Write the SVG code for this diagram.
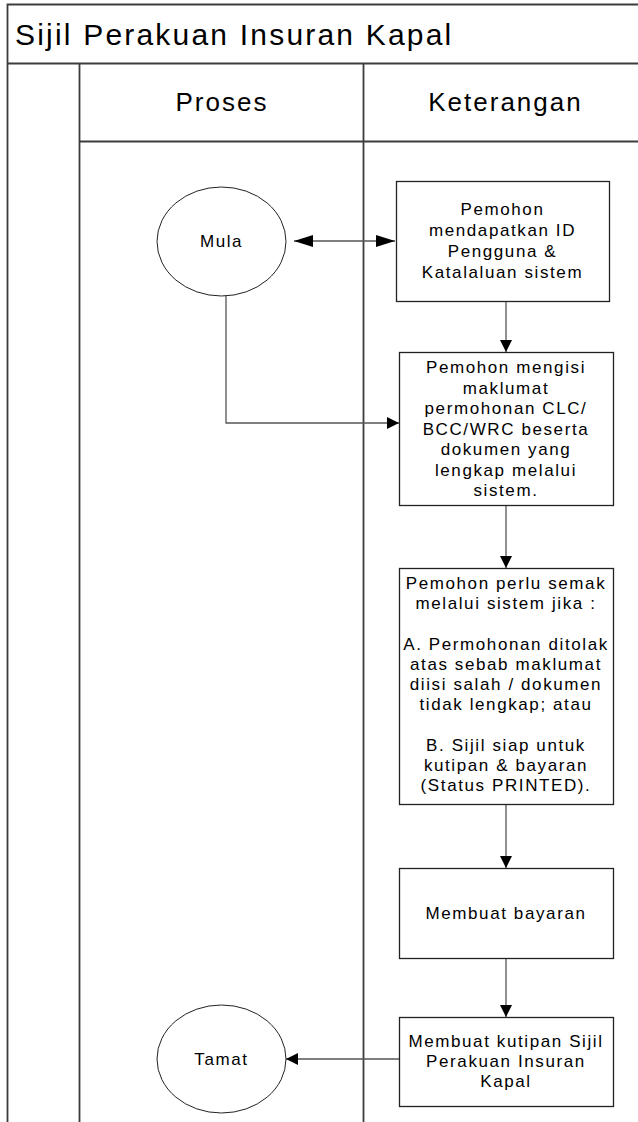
<svg xmlns="http://www.w3.org/2000/svg" width="638" height="1122" viewBox="0 0 638 1122">
<style>
.frame{fill:none;stroke:#3c3c3c;stroke-width:1.8}
.box{fill:#fff;stroke:#222;stroke-width:1.3}
.ell{fill:#fff;stroke:#222;stroke-width:1}
.conn{fill:none;stroke:#555;stroke-width:1.3}
.title{font-family:"Liberation Sans",Arial,sans-serif;font-size:30px;letter-spacing:2.2px;fill:#000}
.head{font-family:"Liberation Sans",Arial,sans-serif;font-size:26px;letter-spacing:2px;fill:#000;text-anchor:middle}
.t{font-family:"Liberation Sans",Arial,sans-serif;font-size:17px;letter-spacing:1.6px;fill:#000;text-anchor:middle}
</style>
<defs>
<marker id="ah" viewBox="0 0 12 12" refX="12" refY="6" markerWidth="12" markerHeight="12" markerUnits="userSpaceOnUse" orient="auto-start-reverse">
<path d="M0,0 L12,6 L0,12 z" fill="#000"/>
</marker>
<marker id="ahl" viewBox="0 0 19 12" refX="19" refY="6" markerWidth="19" markerHeight="12" markerUnits="userSpaceOnUse" orient="auto-start-reverse">
<path d="M0,0 L19,6 L0,12 z" fill="#000"/>
</marker>
</defs>
<rect width="638" height="1122" fill="#fff"/>
<g id="frame">
<path class="frame" d="M7.5,1122 V4.5 H638 M7.5,63.5 H638 M79.5,63.5 V1122 M363.5,63.5 V1122 M79.5,141.5 H638"/>
<text class="title" x="15" y="45">Sijil Perakuan Insuran Kapal</text>
<text class="head" x="222" y="111">Proses</text>
<text class="head" x="505.5" y="111">Keterangan</text>
</g>
<g id="connectors">
<path class="conn" d="M294,241 H395" marker-start="url(#ahl)" marker-end="url(#ahl)"/>
<path class="conn" d="M506,302 V352" marker-end="url(#ah)"/>
<path class="conn" d="M226,296 V423 H399" marker-end="url(#ah)"/>
<path class="conn" d="M506,506 V568" marker-end="url(#ah)"/>
<path class="conn" d="M506,805 V868" marker-end="url(#ah)"/>
<path class="conn" d="M506,959 V1017" marker-end="url(#ah)"/>
<path class="conn" d="M399,1059 H286" marker-end="url(#ah)"/>
</g>
<g id="mula">
<ellipse class="ell" cx="221.5" cy="241.5" rx="64.5" ry="54.5"/>
<text class="t" x="221.5" y="247">Mula</text>
</g>
<g id="box1">
<rect class="box" x="396.5" y="181.5" width="213" height="120"/>
<text class="t" x="502.5"><tspan x="502.5" y="215">Pemohon</tspan><tspan x="502.5" y="236">mendapatkan ID</tspan><tspan x="502.5" y="257">Pengguna &amp;</tspan><tspan x="502.5" y="278">Katalaluan sistem</tspan></text>
</g>
<g id="box2">
<rect class="box" x="399.5" y="352.5" width="214" height="153"/>
<text class="t"><tspan x="506" y="373">Pemohon mengisi</tspan><tspan x="506" y="394">maklumat</tspan><tspan x="506" y="414">permohonan CLC/</tspan><tspan x="506" y="435">BCC/WRC beserta</tspan><tspan x="506" y="455">dokumen yang</tspan><tspan x="506" y="476">lengkap melalui</tspan><tspan x="506" y="496">sistem.</tspan></text>
</g>
<g id="box3">
<rect class="box" x="399.5" y="568.5" width="214" height="236"/>
<text class="t"><tspan x="506" y="589">Pemohon perlu semak</tspan><tspan x="506" y="609">melalui sistem jika :</tspan><tspan x="506" y="650">A. Permohonan ditolak</tspan><tspan x="506" y="670">atas sebab maklumat</tspan><tspan x="506" y="690">diisi salah / dokumen</tspan><tspan x="506" y="710">tidak lengkap; atau</tspan><tspan x="506" y="751">B. Sijil siap untuk</tspan><tspan x="506" y="771">kutipan &amp; bayaran</tspan><tspan x="506" y="791">(Status PRINTED).</tspan></text>
</g>
<g id="box4">
<rect class="box" x="399.5" y="868.5" width="214" height="90"/>
<text class="t" x="506" y="919">Membuat bayaran</text>
</g>
<g id="box5">
<rect class="box" x="399.5" y="1017.5" width="214" height="89"/>
<text class="t"><tspan x="506" y="1047">Membuat kutipan Sijil</tspan><tspan x="506" y="1067">Perakuan Insuran</tspan><tspan x="506" y="1087">Kapal</tspan></text>
</g>
<g id="tamat">
<ellipse class="ell" cx="221.5" cy="1059" rx="64.5" ry="54"/>
<text class="t" x="221.5" y="1065">Tamat</text>
</g>
</svg>
